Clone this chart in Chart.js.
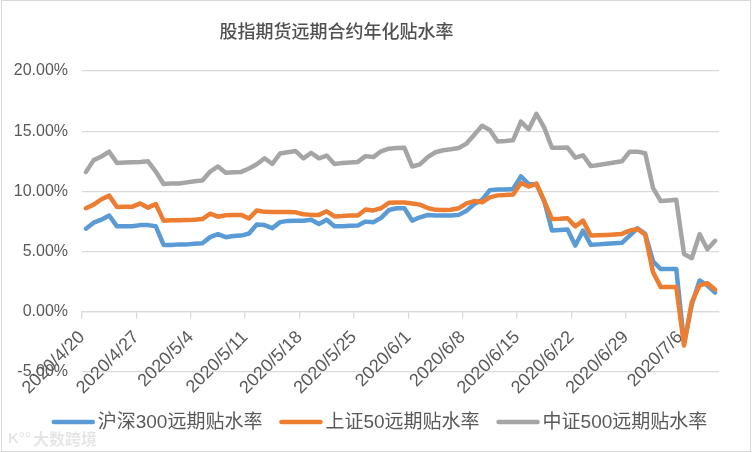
<!DOCTYPE html>
<html><head><meta charset="utf-8">
<script src="https://cdn.jsdelivr.net/npm/chart.js@4"></script>
<style>html,body{margin:0;padding:0;background:#fff}#wrap{width:752px;height:452px;position:relative}</style>
</head><body><div id="wrap"><canvas id="c" width="752" height="452"></canvas></div>
<script>
const chartTitle = '股指期货远期合约年化贴水率';
const seriesNames = ['沪深300远期贴水率', '上证50远期贴水率', '中证500远期贴水率'];
const seriesColors = ['#5B9BD5', '#ED7D31', '#A5A5A5'];
const watermark = '大数跨境';

const dates = [
 '2020/4/20','2020/4/21','2020/4/22','2020/4/23','2020/4/24','2020/4/25','2020/4/26','2020/4/27','2020/4/28','2020/4/29','2020/4/30',
 '2020/5/1','2020/5/2','2020/5/3','2020/5/4','2020/5/5','2020/5/6','2020/5/7','2020/5/8','2020/5/9','2020/5/10',
 '2020/5/11','2020/5/12','2020/5/13','2020/5/14','2020/5/15','2020/5/16','2020/5/17','2020/5/18','2020/5/19','2020/5/20',
 '2020/5/21','2020/5/22','2020/5/23','2020/5/24','2020/5/25','2020/5/26','2020/5/27','2020/5/28','2020/5/29','2020/5/30','2020/5/31',
 '2020/6/1','2020/6/2','2020/6/3','2020/6/4','2020/6/5','2020/6/6','2020/6/7','2020/6/8','2020/6/9','2020/6/10',
 '2020/6/11','2020/6/12','2020/6/13','2020/6/14','2020/6/15','2020/6/16','2020/6/17','2020/6/18','2020/6/19','2020/6/20',
 '2020/6/21','2020/6/22','2020/6/23','2020/6/24','2020/6/25','2020/6/26','2020/6/27','2020/6/28','2020/6/29','2020/6/30',
 '2020/7/1','2020/7/2','2020/7/3','2020/7/4','2020/7/5','2020/7/6','2020/7/7','2020/7/8','2020/7/9','2020/7/10'
];
const tickLabels = ['2020/4/20','2020/4/27','2020/5/4','2020/5/11','2020/5/18','2020/5/25','2020/6/1','2020/6/8','2020/6/15','2020/6/22','2020/6/29','2020/7/6'];

// values in %
const hs300 = [
 6.9,7.4,7.65,8.0,7.1,7.1,7.1,7.2,7.2,7.1,5.55,
 5.55,5.6,5.6,5.65,5.7,6.2,6.45,6.2,6.3,6.33,
 6.5,7.25,7.2,6.95,7.45,7.55,7.57,7.57,7.65,7.3,
 7.65,7.1,7.1,7.15,7.16,7.49,7.44,7.8,8.45,8.6,8.6,
 7.57,7.85,8.04,8.0,8.0,8.0,8.05,8.4,8.95,9.3,
 10.1,10.15,10.15,10.2,11.25,10.6,10.6,9.2,6.75,6.8,
 6.83,5.5,6.74,5.56,5.6,5.65,5.7,5.73,6.33,6.94,
 6.47,4.2,3.55,3.55,3.55,-2.6,0.6,2.6,2.2,1.6
];
const sz50 = [
 8.6,8.9,9.35,9.65,8.7,8.72,8.73,9.0,8.65,8.95,7.57,
 7.6,7.6,7.62,7.65,7.7,8.15,7.9,8.02,8.05,8.05,
 7.75,8.42,8.3,8.28,8.28,8.28,8.26,8.1,8.05,8.05,
 8.35,7.92,7.95,8.0,8.0,8.5,8.42,8.6,9.05,9.07,9.07,
 9.0,8.9,8.62,8.47,8.45,8.47,8.6,9.0,9.2,9.1,
 9.5,9.67,9.7,9.75,10.7,10.4,10.65,9.2,7.7,7.72,
 7.77,7.1,7.57,6.33,6.35,6.38,6.42,6.47,6.74,6.88,
 6.4,3.3,2.05,2.05,2.07,-2.8,0.8,2.2,2.38,1.85
];
const zz500 = [
 11.6,12.6,12.9,13.3,12.35,12.4,12.42,12.45,12.5,11.65,10.62,
 10.65,10.65,10.75,10.85,10.9,11.65,12.07,11.55,11.6,11.62,
 11.9,12.25,12.75,12.28,13.15,13.25,13.35,12.75,13.2,12.75,
 12.98,12.28,12.35,12.4,12.45,12.93,12.85,13.33,13.55,13.6,13.62,
 12.07,12.25,12.85,13.25,13.42,13.5,13.6,13.97,14.7,15.45,
 15.1,14.15,14.18,14.25,15.8,15.15,16.45,15.3,13.62,13.62,
 13.64,12.8,13.0,12.1,12.2,12.3,12.4,12.5,13.3,13.3,
 13.17,10.3,9.2,9.25,9.3,4.8,4.45,6.45,5.2,5.9
];
const yTicks = [-5, 0, 5, 10, 15, 20];

const toPts = arr => arr.map((v, i) => ({ x: i + 0.5, y: v }));
const tickValues = tickLabels.map(l => dates.indexOf(l));

const decor = {
  id: 'decor',
  beforeDraw(chart) {
    const ctx = chart.ctx;
    ctx.save();
    ctx.fillStyle = '#fff';
    ctx.fillRect(0, 0, chart.width, chart.height);
    ctx.strokeStyle = '#d9d9d9';
    ctx.lineWidth = 1;
    ctx.strokeRect(1.5, 0.5, chart.width - 3, chart.height - 1);
    ctx.restore();
  },
  afterDraw(chart) {
    const ctx = chart.ctx;
    ctx.save();
    // title
    ctx.fillStyle = '#505050';
    ctx.font = '500 18px "Noto Sans CJK SC"';
    ctx.textAlign = 'center';
    ctx.textBaseline = 'middle';
    ctx.fillText(chartTitle, 336.5, 31);
    // legend
    ctx.font = '19px "Liberation Sans", "Noto Sans CJK SC"';
    ctx.textAlign = 'left';
    const lineLen = 43, gapText = 3, gapItem = 17;
    const widths = chart.data.datasets.map(d => lineLen + gapText + ctx.measureText(d.label).width);
    const total = widths.reduce((a, b) => a + b, 0) + gapItem * (widths.length - 1);
    let x = 379.5 - total / 2;
    const y = 422;
    chart.data.datasets.forEach((d, i) => {
      ctx.strokeStyle = d.borderColor;
      ctx.lineWidth = 4.5;
      ctx.lineCap = 'round';
      ctx.beginPath();
      ctx.moveTo(x + 2, y);
      ctx.lineTo(x + lineLen - 2, y);
      ctx.stroke();
      ctx.fillStyle = '#595959';
      ctx.fillText(d.label, x + lineLen + gapText, y + 1);
      x += widths[i] + gapItem;
    });
    // watermark
    ctx.font = 'bold 16px "Noto Sans CJK SC"';
    ctx.fillStyle = 'rgba(0,0,0,0.10)';
    ctx.fillText(watermark, 33, 439);
    ctx.font = 'bold 15px "Liberation Sans"';
    ctx.fillText('K°°', 8, 439);
    ctx.restore();
  }
};

new Chart(document.getElementById('c'), {
  type: 'line',
  data: {
    datasets: [
      { label: seriesNames[0], data: toPts(hs300), borderColor: seriesColors[0], backgroundColor: seriesColors[0], order: 3 },
      { label: seriesNames[1], data: toPts(sz50), borderColor: seriesColors[1], backgroundColor: seriesColors[1], order: 2 },
      { label: seriesNames[2], data: toPts(zz500), borderColor: seriesColors[2], backgroundColor: seriesColors[2], order: 1 }
    ]
  },
  options: {
    responsive: false,
    animation: false,
    devicePixelRatio: 1,
    layout: { padding: { left: 0, right: 33, top: 71, bottom: 80 } },
    plugins: { legend: { display: false }, title: { display: false }, tooltip: { enabled: false } },
    elements: {
      point: { radius: 0, hoverRadius: 0 },
      line: { borderWidth: 4.5, tension: 0, borderJoinStyle: 'round', borderCapStyle: 'round', fill: false }
    },
    scales: {
      x: {
        type: 'linear',
        min: 0,
        max: dates.length,
        position: { y: 0 },
        afterFit: s => { s.height = 0; s.paddingLeft = 0; s.paddingRight = 0; },
        afterBuildTicks: s => { s.ticks = tickValues.map(v => ({ value: v })); },
        ticks: {
          autoSkip: false, minRotation: 45, maxRotation: 45, padding: 9,
          color: '#595959', font: { family: '"Liberation Sans"', size: 18 },
          callback: (v, i) => tickLabels[i]
        },
        grid: { display: true, drawOnChartArea: false, drawTicks: true, tickLength: 6, color: '#d9d9d9', lineWidth: 1.3 },
        border: { display: true, color: '#d9d9d9', width: 1.3 }
      },
      y: {
        min: -5, max: 20,
        afterFit: s => { s.width = 82; },
        afterBuildTicks: s => { s.ticks = yTicks.map(v => ({ value: v })); },
        ticks: {
          padding: 14, color: '#595959', font: { family: '"Liberation Sans"', size: 16 },
          callback: v => v.toFixed(2) + '%'
        },
        grid: { color: '#d9d9d9', lineWidth: 1.3, drawTicks: false },
        border: { display: false }
      }
    }
  },
  plugins: [decor]
});
</script>
</body></html>
